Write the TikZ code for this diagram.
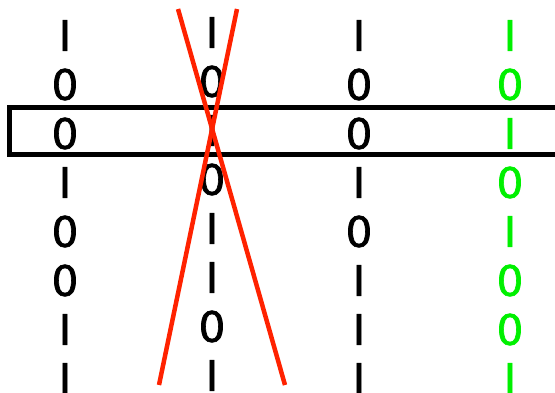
\documentclass[tikz,border=0pt]{standalone}
\usepackage{fontspec}
\setmainfont{DejaVu Sans}
\newfontfamily\bitfont{DejaVu Sans}[FakeBold=1.6]
\usepackage{xcolor}
\definecolor{bitgreen}{HTML}{00F000}
\definecolor{crossred}{HTML}{FF2200}

\begin{document}
\begin{tikzpicture}[x=1pt,y=-1pt,
  bit/.style={inner sep=0pt,font=\bitfont\fontsize{42}{42}\selectfont},
  frame/.style={draw,line width=5pt},
  strike/.style={draw=crossred,line width=4.5pt}]
\useasboundingbox (0,0) rectangle (555,392);
% the four columns of bits
\foreach \c/\x/\dy/\col/\bits in {1/65/0/black/{I,0,0,I,0,0,I,I},
                                2/212/-3/black/{I,0,I,0,I,I,0,I},
                                3/359/0/black/{I,0,0,I,0,I,I,I},
                                4/510/0/bitgreen/{I,0,I,0,I,0,0,I}}{
  \foreach \b [count=\r] in \bits
    \node[bit,text=\col] (c\c r\r) at (\x,{35.5+49*(\r-1)+\dy}) {\b};
}
% selected row
\draw[frame] (9,107) rectangle (560,154);
% crossed-out column
\coordinate (xa) at (178,9);
\coordinate (xb) at (237,9);
\coordinate (xc) at (159,385);
\coordinate (xd) at (285,385);
\draw[strike] (xa) -- (xd);
\draw[strike] (xb) -- (xc);
\end{tikzpicture}
\end{document}
